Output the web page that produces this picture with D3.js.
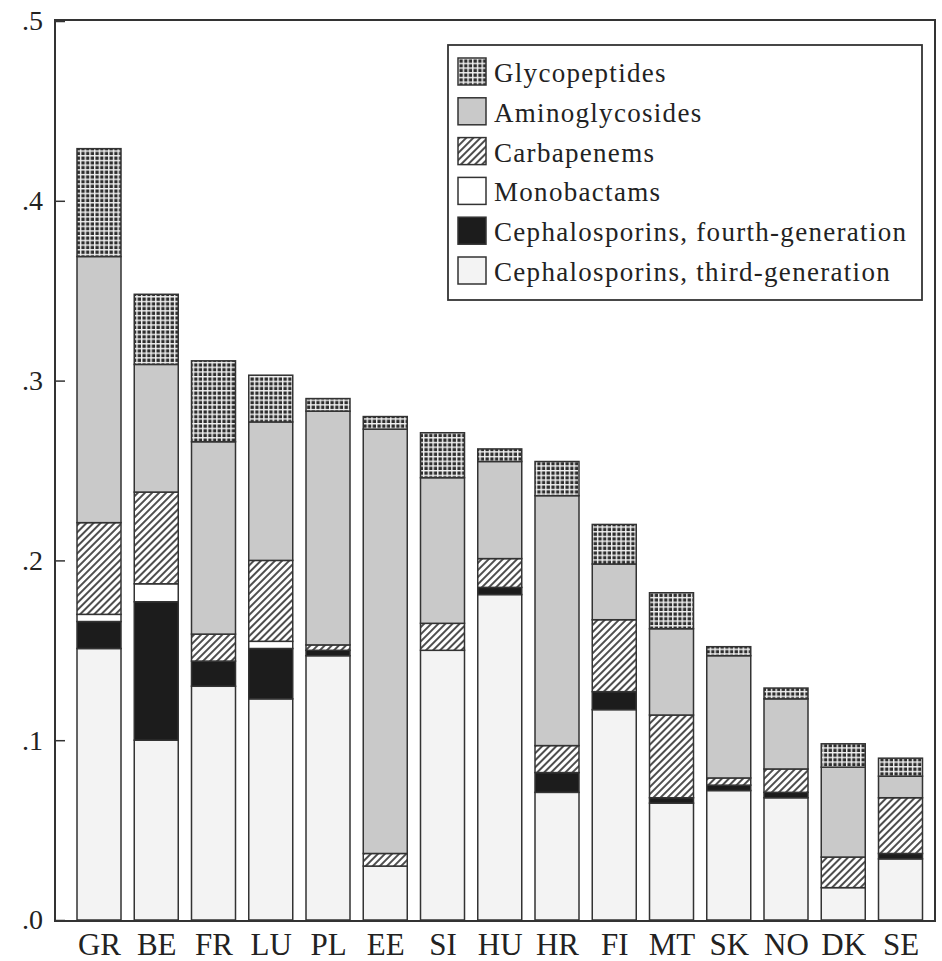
<!DOCTYPE html>
<html>
<head>
<meta charset="utf-8">
<script src="https://cdn.jsdelivr.net/npm/d3@7/dist/d3.min.js"></script>
<style>
  html, body { margin: 0; padding: 0; background: #fff; }
  svg { display: block; }
  text { font-family: "Liberation Serif", "DejaVu Serif", serif; fill: #222; }
</style>
</head>
<body>
<svg id="chart" width="942" height="961"></svg>
<script>
// Countries (x categories)
const countries = ["GR","BE","FR","LU","PL","EE","SI","HU","HR","FI","MT","SK","NO","DK","SE"];

// Consumption per antibiotic class, stacked from bottom to top
const ceph3  = [0.151,0.100,0.130,0.123,0.147,0.030,0.150,0.181,0.071,0.117,0.065,0.072,0.068,0.018,0.034];
const ceph4  = [0.015,0.077,0.014,0.028,0.003,0.000,0.000,0.004,0.011,0.010,0.003,0.003,0.003,0.000,0.003];
const mono   = [0.004,0.010,0.000,0.004,0.000,0.000,0.000,0.000,0.000,0.000,0.000,0.000,0.000,0.000,0.000];
const carb   = [0.051,0.051,0.015,0.045,0.003,0.007,0.015,0.016,0.015,0.040,0.046,0.004,0.013,0.017,0.031];
const amino  = [0.148,0.071,0.107,0.077,0.130,0.236,0.081,0.054,0.139,0.031,0.048,0.068,0.039,0.050,0.012];
const glyco  = [0.060,0.039,0.045,0.026,0.007,0.007,0.025,0.007,0.019,0.022,0.020,0.005,0.006,0.013,0.010];

// Series keys (stack order) and legend labels (top to bottom)
const seriesKeys = ["ceph3","ceph4","mono","carb","amino","glyco"];
const legendKeys = ["glyco","amino","carb","mono","ceph4","ceph3"];
const legendLabels = {
  glyco: "Glycopeptides",
  amino: "Aminoglycosides",
  carb:  "Carbapenems",
  mono:  "Monobactams",
  ceph4: "Cephalosporins, fourth-generation",
  ceph3: "Cephalosporins, third-generation"
};

// Y axis ticks and their labels
const yTicks = [0, 0.1, 0.2, 0.3, 0.4, 0.5];
const yTickLabels = [".0", ".1", ".2", ".3", ".4", ".5"];

const seriesValues = { ceph3, ceph4, mono, carb, amino, glyco };
const table = countries.map((c, i) => {
  const row = { country: c };
  seriesKeys.forEach(k => row[k] = seriesValues[k][i]);
  return row;
});

const svg = d3.select("#chart");
const defs = svg.append("defs");

// Glycopeptides: dark cells separated by a white grid
const grid = defs.append("pattern")
  .attr("id", "pat-glyco").attr("patternUnits", "userSpaceOnUse")
  .attr("width", 4.7).attr("height", 4.7);
grid.append("rect").attr("width", 4.7).attr("height", 4.7).attr("fill", "#2e2e2e");
grid.append("rect").attr("x", 0).attr("y", 0).attr("width", 1.4).attr("height", 4.7).attr("fill", "#f2f2f2");
grid.append("rect").attr("x", 0).attr("y", 0).attr("width", 4.7).attr("height", 1.4).attr("fill", "#f2f2f2");

// Carbapenems: diagonal hatching
const hatch = defs.append("pattern")
  .attr("id", "pat-carb").attr("patternUnits", "userSpaceOnUse")
  .attr("width", 5).attr("height", 5)
  .attr("patternTransform", "rotate(45)");
hatch.append("rect").attr("width", 5).attr("height", 5).attr("fill", "#fff");
hatch.append("line").attr("x1", 1).attr("y1", 0).attr("x2", 1).attr("y2", 5)
  .attr("stroke", "#222").attr("stroke-width", 1.6);

const fills = {
  ceph3: "#f3f3f3",
  ceph4: "#1c1c1c",
  mono:  "#ffffff",
  carb:  "url(#pat-carb)",
  amino: "#c9c9c9",
  glyco: "url(#pat-glyco)"
};

const frame = { left: 55, right: 935, top: 20, bottom: 921 };

const y = d3.scaleLinear().domain([0, 0.5]).range([920, 21]);
const x = d3.scalePoint().domain(countries).range([99, 900.5]);
const barW = 44;

const stack = d3.stack().keys(seriesKeys);
const layers = stack(table);

// Bars
const g = svg.append("g");
layers.forEach(layer => {
  g.append("g").selectAll("rect")
    .data(layer.filter(d => d[1] - d[0] > 0))
    .join("rect")
    .attr("x", d => x(d.data.country) - barW / 2)
    .attr("width", barW)
    .attr("y", d => y(d[1]))
    .attr("height", d => y(d[0]) - y(d[1]))
    .attr("fill", fills[layer.key])
    .attr("stroke", "#333")
    .attr("stroke-width", 1.5);
});

// Plot frame
svg.append("rect")
  .attr("x", frame.left).attr("y", frame.top)
  .attr("width", frame.right - frame.left)
  .attr("height", frame.bottom - frame.top)
  .attr("fill", "none").attr("stroke", "#333").attr("stroke-width", 2);

// Y axis: inward ticks, labels on the left
const yAxis = d3.axisLeft(y)
  .tickValues(yTicks)
  .tickSizeInner(-10).tickSizeOuter(0)
  .tickPadding(12)
  .tickFormat((d, i) => yTickLabels[i]);
const ya = svg.append("g").attr("transform", `translate(${frame.left},0)`).call(yAxis);
ya.select(".domain").remove();
ya.selectAll("line").attr("stroke", "#333").attr("stroke-width", 1.5);
ya.selectAll("text")
  .attr("font-size", 28).attr("font-family", "Liberation Serif").attr("fill", "#222")
  .attr("text-anchor", "end").attr("x", -12);

// X axis labels
const xAxis = d3.axisBottom(x).tickSize(0).tickPadding(12);
const xa = svg.append("g").attr("transform", `translate(0,${frame.bottom})`).call(xAxis);
xa.select(".domain").remove();
xa.selectAll("text")
  .attr("font-size", 31).attr("font-family", "Liberation Serif").attr("fill", "#222");

// Legend
const lg = svg.append("g");
lg.append("rect")
  .attr("x", 448).attr("y", 45).attr("width", 474).attr("height", 255)
  .attr("fill", "#fff").attr("stroke", "#333").attr("stroke-width", 1.8);
const rowY = d3.scalePoint().domain(legendKeys).range([58, 257]);
const item = lg.selectAll("g.item").data(legendKeys).join("g")
  .attr("class", "item")
  .attr("transform", k => `translate(458,${rowY(k)})`);
item.append("rect")
  .attr("width", 28).attr("height", 27)
  .attr("fill", k => fills[k])
  .attr("stroke", "#333").attr("stroke-width", 1.5);
item.append("text")
  .attr("x", 36).attr("y", 24)
  .attr("font-size", 27)
  .attr("letter-spacing", 1.3)
  .text(k => legendLabels[k]);
</script>
</body>
</html>
